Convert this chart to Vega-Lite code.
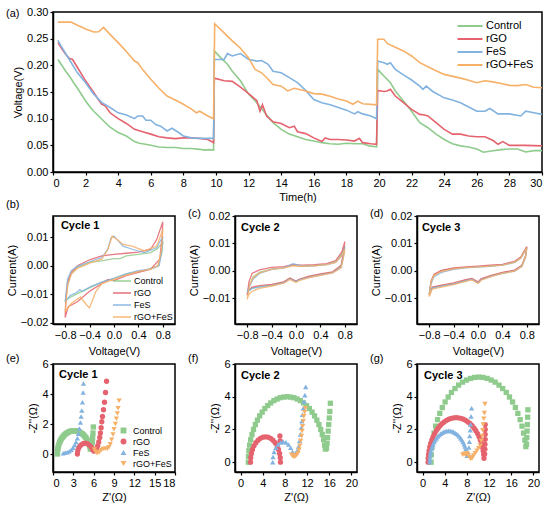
{
  "$schema": "https://vega.github.io/schema/vega-lite/v6.json",
  "padding": 5,
  "config": {
    "font": "Liberation Sans",
    "view": {"stroke": "#000", "strokeWidth": 1.5},
    "axis": {"grid": false, "domainColor": "#000", "domainWidth": 1.5, "tickColor": "#000", "tickWidth": 1.2, "tickSize": 3, "labelColor": "#000", "labelFontSize": 11, "labelPadding": 2, "labelOverlap": false, "titleColor": "#000", "titleFontSize": 11, "titleFontWeight": "normal", "titlePadding": 3},
    "title": {"fontSize": 11, "fontWeight": "normal", "anchor": "start", "frame": "group", "dx": -47, "color": "#000"},
    "legend": {"title": null, "padding": 0, "labelColor": "#000"}
  },
  "datasets": {
    "volt": [
      {"s":"Control","x":0.3,"y":0.211},{"s":"Control","x":0.5,"y":0.202},{"s":"Control","x":0.8,"y":0.188},{"s":"Control","x":1.0,"y":0.180},{"s":"Control","x":1.3,"y":0.166},{"s":"Control","x":1.5,"y":0.157},{"s":"Control","x":1.8,"y":0.143},{"s":"Control","x":2.0,"y":0.133},{"s":"Control","x":2.3,"y":0.121},{"s":"Control","x":2.5,"y":0.114},{"s":"Control","x":2.8,"y":0.105},{"s":"Control","x":3.0,"y":0.099},{"s":"Control","x":3.3,"y":0.090},{"s":"Control","x":3.5,"y":0.084},{"s":"Control","x":3.8,"y":0.078},{"s":"Control","x":4.0,"y":0.074},{"s":"Control","x":4.5,"y":0.0675},{"s":"Control","x":5.0,"y":0.057},{"s":"Control","x":5.3,"y":0.054},{"s":"Control","x":5.5,"y":0.053},{"s":"Control","x":6.0,"y":0.050},{"s":"Control","x":6.5,"y":0.047},{"s":"Control","x":7.0,"y":0.046},{"s":"Control","x":7.5,"y":0.046},{"s":"Control","x":8.0,"y":0.044},{"s":"Control","x":8.5,"y":0.044},{"s":"Control","x":9.0,"y":0.0425},{"s":"Control","x":9.3,"y":0.041},{"s":"Control","x":9.6,"y":0.042},{"s":"Control","x":9.85,"y":0.041},
      {"s":"Control","x":9.9,"y":0.227},{"s":"Control","x":10.3,"y":0.214},{"s":"Control","x":10.7,"y":0.202},{"s":"Control","x":11.0,"y":0.189},{"s":"Control","x":11.5,"y":0.171},{"s":"Control","x":12.0,"y":0.146},{"s":"Control","x":12.5,"y":0.130},{"s":"Control","x":13.0,"y":0.111},{"s":"Control","x":13.5,"y":0.0925},{"s":"Control","x":14.0,"y":0.080},{"s":"Control","x":14.5,"y":0.071},{"s":"Control","x":15.0,"y":0.066},{"s":"Control","x":15.5,"y":0.061},{"s":"Control","x":16.0,"y":0.058},{"s":"Control","x":16.5,"y":0.055},{"s":"Control","x":17.0,"y":0.053},{"s":"Control","x":17.5,"y":0.052},{"s":"Control","x":18.0,"y":0.054},{"s":"Control","x":18.5,"y":0.053},{"s":"Control","x":19.0,"y":0.053},{"s":"Control","x":19.4,"y":0.049},{"s":"Control","x":19.85,"y":0.047},
      {"s":"Control","x":19.92,"y":0.1925},{"s":"Control","x":20.3,"y":0.180},{"s":"Control","x":20.7,"y":0.1675},{"s":"Control","x":21.0,"y":0.152},{"s":"Control","x":21.5,"y":0.133},{"s":"Control","x":22.0,"y":0.114},{"s":"Control","x":22.5,"y":0.0925},{"s":"Control","x":23.0,"y":0.083},{"s":"Control","x":23.5,"y":0.071},{"s":"Control","x":24.0,"y":0.061},{"s":"Control","x":24.5,"y":0.053},{"s":"Control","x":25.0,"y":0.049},{"s":"Control","x":25.5,"y":0.047},{"s":"Control","x":26.0,"y":0.043},{"s":"Control","x":26.4,"y":0.037},{"s":"Control","x":27.0,"y":0.040},{"s":"Control","x":27.5,"y":0.042},{"s":"Control","x":28.0,"y":0.043},{"s":"Control","x":28.5,"y":0.043},{"s":"Control","x":29.0,"y":0.0375},{"s":"Control","x":29.5,"y":0.040},{"s":"Control","x":30.0,"y":0.040},
      {"s":"rGO","x":0.3,"y":0.2425},{"s":"rGO","x":0.5,"y":0.233},{"s":"rGO","x":0.8,"y":0.220},{"s":"rGO","x":1.0,"y":0.213},{"s":"rGO","x":1.2,"y":0.211},{"s":"rGO","x":1.5,"y":0.196},{"s":"rGO","x":2.0,"y":0.171},{"s":"rGO","x":2.5,"y":0.149},{"s":"rGO","x":2.8,"y":0.135},{"s":"rGO","x":3.0,"y":0.127},{"s":"rGO","x":3.2,"y":0.124},{"s":"rGO","x":3.5,"y":0.111},{"s":"rGO","x":4.0,"y":0.100},{"s":"rGO","x":4.5,"y":0.091},{"s":"rGO","x":5.0,"y":0.080},{"s":"rGO","x":5.5,"y":0.0756},{"s":"rGO","x":6.0,"y":0.071},{"s":"rGO","x":6.5,"y":0.066},{"s":"rGO","x":7.0,"y":0.064},{"s":"rGO","x":7.5,"y":0.0625},{"s":"rGO","x":8.0,"y":0.064},{"s":"rGO","x":8.5,"y":0.064},{"s":"rGO","x":9.0,"y":0.063},{"s":"rGO","x":9.5,"y":0.061},{"s":"rGO","x":9.85,"y":0.055},
      {"s":"rGO","x":9.9,"y":0.176},{"s":"rGO","x":10.5,"y":0.171},{"s":"rGO","x":11.0,"y":0.170},{"s":"rGO","x":11.5,"y":0.159},{"s":"rGO","x":12.0,"y":0.147},{"s":"rGO","x":12.5,"y":0.134},{"s":"rGO","x":12.7,"y":0.114},{"s":"rGO","x":12.85,"y":0.126},{"s":"rGO","x":13.1,"y":0.105},{"s":"rGO","x":13.5,"y":0.094},{"s":"rGO","x":14.0,"y":0.091},{"s":"rGO","x":14.5,"y":0.083},{"s":"rGO","x":14.8,"y":0.086},{"s":"rGO","x":15.0,"y":0.0756},{"s":"rGO","x":15.5,"y":0.072},{"s":"rGO","x":16.0,"y":0.064},{"s":"rGO","x":16.5,"y":0.057},{"s":"rGO","x":16.7,"y":0.064},{"s":"rGO","x":17.0,"y":0.061},{"s":"rGO","x":17.5,"y":0.061},{"s":"rGO","x":18.0,"y":0.060},{"s":"rGO","x":18.5,"y":0.058},{"s":"rGO","x":18.8,"y":0.063},{"s":"rGO","x":19.0,"y":0.055},{"s":"rGO","x":19.5,"y":0.053},{"s":"rGO","x":19.85,"y":0.052},
      {"s":"rGO","x":19.92,"y":0.153},{"s":"rGO","x":20.3,"y":0.151},{"s":"rGO","x":20.5,"y":0.152},{"s":"rGO","x":20.7,"y":0.155},{"s":"rGO","x":21.0,"y":0.1425},{"s":"rGO","x":21.5,"y":0.130},{"s":"rGO","x":22.0,"y":0.1175},{"s":"rGO","x":22.5,"y":0.108},{"s":"rGO","x":22.8,"y":0.107},{"s":"rGO","x":23.0,"y":0.105},{"s":"rGO","x":23.5,"y":0.0925},{"s":"rGO","x":24.0,"y":0.080},{"s":"rGO","x":24.5,"y":0.071},{"s":"rGO","x":25.0,"y":0.071},{"s":"rGO","x":25.5,"y":0.0675},{"s":"rGO","x":26.0,"y":0.066},{"s":"rGO","x":26.5,"y":0.066},{"s":"rGO","x":27.0,"y":0.059},{"s":"rGO","x":27.3,"y":0.052},{"s":"rGO","x":27.6,"y":0.057},{"s":"rGO","x":28.0,"y":0.050},{"s":"rGO","x":29.0,"y":0.050},{"s":"rGO","x":30.0,"y":0.049},
      {"s":"FeS","x":0.3,"y":0.247},{"s":"FeS","x":0.5,"y":0.236},{"s":"FeS","x":1.0,"y":0.211},{"s":"FeS","x":1.5,"y":0.186},{"s":"FeS","x":2.0,"y":0.1675},{"s":"FeS","x":2.5,"y":0.146},{"s":"FeS","x":3.0,"y":0.130},{"s":"FeS","x":3.5,"y":0.121},{"s":"FeS","x":4.0,"y":0.111},{"s":"FeS","x":4.5,"y":0.107},{"s":"FeS","x":5.0,"y":0.100},{"s":"FeS","x":5.2,"y":0.105},{"s":"FeS","x":5.5,"y":0.105},{"s":"FeS","x":5.7,"y":0.097},{"s":"FeS","x":6.0,"y":0.097},{"s":"FeS","x":6.3,"y":0.089},{"s":"FeS","x":6.6,"y":0.086},{"s":"FeS","x":7.0,"y":0.077},{"s":"FeS","x":7.3,"y":0.082},{"s":"FeS","x":7.7,"y":0.074},{"s":"FeS","x":8.0,"y":0.0675},{"s":"FeS","x":8.5,"y":0.064},{"s":"FeS","x":9.0,"y":0.063},{"s":"FeS","x":9.5,"y":0.063},{"s":"FeS","x":9.85,"y":0.063},
      {"s":"FeS","x":9.9,"y":0.211},{"s":"FeS","x":10.5,"y":0.211},{"s":"FeS","x":10.7,"y":0.222},{"s":"FeS","x":11.0,"y":0.2175},{"s":"FeS","x":11.5,"y":0.222},{"s":"FeS","x":12.0,"y":0.211},{"s":"FeS","x":12.5,"y":0.208},{"s":"FeS","x":12.8,"y":0.209},{"s":"FeS","x":13.2,"y":0.202},{"s":"FeS","x":13.5,"y":0.189},{"s":"FeS","x":14.0,"y":0.186},{"s":"FeS","x":14.5,"y":0.177},{"s":"FeS","x":15.0,"y":0.1675},{"s":"FeS","x":15.5,"y":0.153},{"s":"FeS","x":16.0,"y":0.136},{"s":"FeS","x":16.5,"y":0.130},{"s":"FeS","x":17.0,"y":0.126},{"s":"FeS","x":17.5,"y":0.121},{"s":"FeS","x":18.0,"y":0.116},{"s":"FeS","x":18.5,"y":0.109},{"s":"FeS","x":18.7,"y":0.113},{"s":"FeS","x":19.0,"y":0.109},{"s":"FeS","x":19.5,"y":0.105},{"s":"FeS","x":19.85,"y":0.100},
      {"s":"FeS","x":19.92,"y":0.208},{"s":"FeS","x":20.3,"y":0.205},{"s":"FeS","x":20.5,"y":0.202},{"s":"FeS","x":20.7,"y":0.205},{"s":"FeS","x":21.0,"y":0.1925},{"s":"FeS","x":21.5,"y":0.182},{"s":"FeS","x":22.0,"y":0.1725},{"s":"FeS","x":22.5,"y":0.161},{"s":"FeS","x":22.7,"y":0.155},{"s":"FeS","x":22.9,"y":0.161},{"s":"FeS","x":23.3,"y":0.151},{"s":"FeS","x":24.0,"y":0.139},{"s":"FeS","x":24.5,"y":0.135},{"s":"FeS","x":25.0,"y":0.130},{"s":"FeS","x":25.5,"y":0.122},{"s":"FeS","x":26.0,"y":0.114},{"s":"FeS","x":26.5,"y":0.114},{"s":"FeS","x":26.8,"y":0.119},{"s":"FeS","x":27.3,"y":0.109},{"s":"FeS","x":28.0,"y":0.109},{"s":"FeS","x":28.7,"y":0.105},{"s":"FeS","x":29.0,"y":0.114},{"s":"FeS","x":29.5,"y":0.111},{"s":"FeS","x":30.0,"y":0.108},
      {"s":"rGO+FeS","x":0.3,"y":0.281},{"s":"rGO+FeS","x":0.7,"y":0.281},{"s":"rGO+FeS","x":1.1,"y":0.281},{"s":"rGO+FeS","x":1.5,"y":0.275},{"s":"rGO+FeS","x":2.0,"y":0.268},{"s":"rGO+FeS","x":2.5,"y":0.2625},{"s":"rGO+FeS","x":2.8,"y":0.263},{"s":"rGO+FeS","x":3.1,"y":0.271},{"s":"rGO+FeS","x":3.5,"y":0.258},{"s":"rGO+FeS","x":4.0,"y":0.2425},{"s":"rGO+FeS","x":4.5,"y":0.226},{"s":"rGO+FeS","x":5.0,"y":0.208},{"s":"rGO+FeS","x":5.2,"y":0.205},{"s":"rGO+FeS","x":5.5,"y":0.192},{"s":"rGO+FeS","x":6.0,"y":0.174},{"s":"rGO+FeS","x":6.5,"y":0.157},{"s":"rGO+FeS","x":7.0,"y":0.1425},{"s":"rGO+FeS","x":7.5,"y":0.135},{"s":"rGO+FeS","x":8.0,"y":0.127},{"s":"rGO+FeS","x":8.5,"y":0.118},{"s":"rGO+FeS","x":8.8,"y":0.111},{"s":"rGO+FeS","x":9.0,"y":0.114},{"s":"rGO+FeS","x":9.5,"y":0.105},{"s":"rGO+FeS","x":9.85,"y":0.100},
      {"s":"rGO+FeS","x":9.92,"y":0.278},{"s":"rGO+FeS","x":10.5,"y":0.261},{"s":"rGO+FeS","x":11.0,"y":0.246},{"s":"rGO+FeS","x":11.5,"y":0.232},{"s":"rGO+FeS","x":12.0,"y":0.214},{"s":"rGO+FeS","x":12.4,"y":0.1925},{"s":"rGO+FeS","x":12.8,"y":0.186},{"s":"rGO+FeS","x":13.2,"y":0.174},{"s":"rGO+FeS","x":13.5,"y":0.164},{"s":"rGO+FeS","x":14.0,"y":0.161},{"s":"rGO+FeS","x":14.4,"y":0.152},{"s":"rGO+FeS","x":14.8,"y":0.157},{"s":"rGO+FeS","x":15.5,"y":0.152},{"s":"rGO+FeS","x":16.0,"y":0.147},{"s":"rGO+FeS","x":16.5,"y":0.146},{"s":"rGO+FeS","x":17.0,"y":0.142},{"s":"rGO+FeS","x":17.5,"y":0.137},{"s":"rGO+FeS","x":18.0,"y":0.133},{"s":"rGO+FeS","x":18.4,"y":0.127},{"s":"rGO+FeS","x":18.7,"y":0.133},{"s":"rGO+FeS","x":19.0,"y":0.128},{"s":"rGO+FeS","x":19.85,"y":0.126},
      {"s":"rGO+FeS","x":19.92,"y":0.249},{"s":"rGO+FeS","x":20.3,"y":0.249},{"s":"rGO+FeS","x":20.5,"y":0.241},{"s":"rGO+FeS","x":21.0,"y":0.234},{"s":"rGO+FeS","x":21.5,"y":0.227},{"s":"rGO+FeS","x":22.0,"y":0.2175},{"s":"rGO+FeS","x":22.5,"y":0.205},{"s":"rGO+FeS","x":23.0,"y":0.1975},{"s":"rGO+FeS","x":23.5,"y":0.190},{"s":"rGO+FeS","x":24.0,"y":0.183},{"s":"rGO+FeS","x":25.0,"y":0.176},{"s":"rGO+FeS","x":25.5,"y":0.172},{"s":"rGO+FeS","x":26.0,"y":0.1675},{"s":"rGO+FeS","x":26.5,"y":0.171},{"s":"rGO+FeS","x":27.0,"y":0.169},{"s":"rGO+FeS","x":27.5,"y":0.166},{"s":"rGO+FeS","x":28.0,"y":0.1625},{"s":"rGO+FeS","x":28.5,"y":0.162},{"s":"rGO+FeS","x":29.0,"y":0.164},{"s":"rGO+FeS","x":29.5,"y":0.159},{"s":"rGO+FeS","x":30.0,"y":0.158}
    ],
    "cv1": [
      {"s":"Control","i":0,"x":-0.8,"y":-0.0127},{"s":"Control","i":1,"x":-0.75,"y":-0.0058},{"s":"Control","i":2,"x":-0.7,"y":-0.0029},{"s":"Control","i":3,"x":-0.6,"y":-0.0006},{"s":"Control","i":4,"x":-0.4,"y":0.0012},{"s":"Control","i":5,"x":-0.2,"y":0.0017},{"s":"Control","i":6,"x":0.0,"y":0.0025},{"s":"Control","i":7,"x":0.1,"y":0.0025},{"s":"Control","i":8,"x":0.2,"y":0.0035},{"s":"Control","i":9,"x":0.4,"y":0.004},{"s":"Control","i":10,"x":0.6,"y":0.0046},{"s":"Control","i":11,"x":0.7,"y":0.0058},{"s":"Control","i":12,"x":0.8,"y":0.008},{"s":"Control","i":13,"x":0.78,"y":0.004},{"s":"Control","i":14,"x":0.72,"y":0.0},{"s":"Control","i":15,"x":0.5,"y":-0.0017},{"s":"Control","i":16,"x":0.2,"y":-0.0029},{"s":"Control","i":17,"x":0.0,"y":-0.0044},{"s":"Control","i":18,"x":-0.2,"y":-0.0058},{"s":"Control","i":19,"x":-0.4,"y":-0.0078},{"s":"Control","i":20,"x":-0.6,"y":-0.0098},{"s":"Control","i":21,"x":-0.75,"y":-0.0115},{"s":"Control","i":22,"x":-0.8,"y":-0.0127},
      {"s":"rGO","i":0,"x":-0.8,"y":-0.0182},{"s":"rGO","i":1,"x":-0.79,"y":-0.0115},{"s":"rGO","i":2,"x":-0.76,"y":-0.0058},{"s":"rGO","i":3,"x":-0.7,"y":-0.0023},{"s":"rGO","i":4,"x":-0.6,"y":0.0},{"s":"rGO","i":5,"x":-0.4,"y":0.0021},{"s":"rGO","i":6,"x":-0.2,"y":0.0035},{"s":"rGO","i":7,"x":0.0,"y":0.004},{"s":"rGO","i":8,"x":0.2,"y":0.0044},{"s":"rGO","i":9,"x":0.4,"y":0.0048},{"s":"rGO","i":10,"x":0.6,"y":0.0058},{"s":"rGO","i":11,"x":0.7,"y":0.0092},{"s":"rGO","i":12,"x":0.8,"y":0.0155},{"s":"rGO","i":13,"x":0.79,"y":0.0104},{"s":"rGO","i":14,"x":0.75,"y":0.0023},{"s":"rGO","i":15,"x":0.6,"y":-0.0012},{"s":"rGO","i":16,"x":0.4,"y":-0.0023},{"s":"rGO","i":17,"x":0.2,"y":-0.0035},{"s":"rGO","i":18,"x":0.0,"y":-0.0052},{"s":"rGO","i":19,"x":-0.1,"y":-0.0048},{"s":"rGO","i":20,"x":-0.2,"y":-0.0063},{"s":"rGO","i":21,"x":-0.4,"y":-0.009},{"s":"rGO","i":22,"x":-0.6,"y":-0.0127},{"s":"rGO","i":23,"x":-0.75,"y":-0.0144},{"s":"rGO","i":24,"x":-0.8,"y":-0.0182},
      {"s":"FeS","i":0,"x":-0.8,"y":-0.0127},{"s":"FeS","i":1,"x":-0.76,"y":-0.0046},{"s":"FeS","i":2,"x":-0.7,"y":-0.0017},{"s":"FeS","i":3,"x":-0.6,"y":-0.0002},{"s":"FeS","i":4,"x":-0.4,"y":0.0014},{"s":"FeS","i":5,"x":-0.2,"y":0.0029},{"s":"FeS","i":6,"x":-0.1,"y":0.0058},{"s":"FeS","i":7,"x":-0.05,"y":0.0098},{"s":"FeS","i":8,"x":0.0,"y":0.0104},{"s":"FeS","i":9,"x":0.05,"y":0.0092},{"s":"FeS","i":10,"x":0.15,"y":0.0069},{"s":"FeS","i":11,"x":0.3,"y":0.0058},{"s":"FeS","i":12,"x":0.5,"y":0.0046},{"s":"FeS","i":13,"x":0.7,"y":0.0063},{"s":"FeS","i":14,"x":0.8,"y":0.0104},{"s":"FeS","i":15,"x":0.79,"y":0.006},{"s":"FeS","i":16,"x":0.74,"y":0.0},{"s":"FeS","i":17,"x":0.6,"y":-0.0012},{"s":"FeS","i":18,"x":0.4,"y":-0.0017},{"s":"FeS","i":19,"x":0.2,"y":-0.0029},{"s":"FeS","i":20,"x":0.0,"y":-0.0044},{"s":"FeS","i":21,"x":-0.2,"y":-0.0058},{"s":"FeS","i":22,"x":-0.4,"y":-0.0075},{"s":"FeS","i":23,"x":-0.52,"y":-0.009},{"s":"FeS","i":24,"x":-0.56,"y":-0.0085},{"s":"FeS","i":25,"x":-0.62,"y":-0.0095},{"s":"FeS","i":26,"x":-0.72,"y":-0.0105},{"s":"FeS","i":27,"x":-0.8,"y":-0.0127},
      {"s":"rGO+FeS","i":0,"x":-0.8,"y":-0.0161},{"s":"rGO+FeS","i":1,"x":-0.76,"y":-0.0069},{"s":"rGO+FeS","i":2,"x":-0.7,"y":-0.0029},{"s":"rGO+FeS","i":3,"x":-0.6,"y":-0.0009},{"s":"rGO+FeS","i":4,"x":-0.4,"y":0.0009},{"s":"rGO+FeS","i":5,"x":-0.2,"y":0.0023},{"s":"rGO+FeS","i":6,"x":-0.1,"y":0.0058},{"s":"rGO+FeS","i":7,"x":-0.03,"y":0.0104},{"s":"rGO+FeS","i":8,"x":0.05,"y":0.0092},{"s":"rGO+FeS","i":9,"x":0.15,"y":0.0075},{"s":"rGO+FeS","i":10,"x":0.3,"y":0.0069},{"s":"rGO+FeS","i":11,"x":0.5,"y":0.0052},{"s":"rGO+FeS","i":12,"x":0.7,"y":0.0069},{"s":"rGO+FeS","i":13,"x":0.8,"y":0.0127},{"s":"rGO+FeS","i":14,"x":0.78,"y":0.0058},{"s":"rGO+FeS","i":15,"x":0.72,"y":0.0},{"s":"rGO+FeS","i":16,"x":0.6,"y":-0.0012},{"s":"rGO+FeS","i":17,"x":0.4,"y":-0.0021},{"s":"rGO+FeS","i":18,"x":0.2,"y":-0.0033},{"s":"rGO+FeS","i":19,"x":0.0,"y":-0.0048},{"s":"rGO+FeS","i":20,"x":-0.2,"y":-0.0063},{"s":"rGO+FeS","i":21,"x":-0.3,"y":-0.0092},{"s":"rGO+FeS","i":22,"x":-0.4,"y":-0.0148},{"s":"rGO+FeS","i":23,"x":-0.45,"y":-0.0138},{"s":"rGO+FeS","i":24,"x":-0.55,"y":-0.011},{"s":"rGO+FeS","i":25,"x":-0.7,"y":-0.0133},{"s":"rGO+FeS","i":26,"x":-0.8,"y":-0.0161}
    ],
    "cv2": [
      {"s":"Control","i":0,"x":-0.8,"y":-0.0085},{"s":"Control","i":1,"x":-0.76,"y":-0.005},{"s":"Control","i":2,"x":-0.7,"y":-0.0022},{"s":"Control","i":3,"x":-0.6,"y":-0.0006},{"s":"Control","i":4,"x":-0.4,"y":0.0006},{"s":"Control","i":5,"x":-0.2,"y":0.001},{"s":"Control","i":6,"x":-0.05,"y":0.002},{"s":"Control","i":7,"x":0.1,"y":0.0016},{"s":"Control","i":8,"x":0.3,"y":0.0019},{"s":"Control","i":9,"x":0.5,"y":0.0023},{"s":"Control","i":10,"x":0.65,"y":0.0033},{"s":"Control","i":11,"x":0.75,"y":0.006},{"s":"Control","i":12,"x":0.8,"y":0.009},{"s":"Control","i":13,"x":0.78,"y":0.006},{"s":"Control","i":14,"x":0.74,"y":0.0016},{"s":"Control","i":15,"x":0.6,"y":-0.0006},{"s":"Control","i":16,"x":0.4,"y":-0.0014},{"s":"Control","i":17,"x":0.2,"y":-0.0023},{"s":"Control","i":18,"x":0.05,"y":-0.0033},{"s":"Control","i":19,"x":0.0,"y":-0.0039},{"s":"Control","i":20,"x":-0.1,"y":-0.0028},{"s":"Control","i":21,"x":-0.2,"y":-0.0042},{"s":"Control","i":22,"x":-0.4,"y":-0.0052},{"s":"Control","i":23,"x":-0.6,"y":-0.0058},{"s":"Control","i":24,"x":-0.72,"y":-0.0063},{"s":"Control","i":25,"x":-0.78,"y":-0.0075},{"s":"Control","i":26,"x":-0.8,"y":-0.0085},
      {"s":"rGO","i":0,"x":-0.8,"y":-0.009},{"s":"rGO","i":1,"x":-0.77,"y":-0.004},{"s":"rGO","i":2,"x":-0.72,"y":-0.001},{"s":"rGO","i":3,"x":-0.6,"y":0.0003},{"s":"rGO","i":4,"x":-0.4,"y":0.0012},{"s":"rGO","i":5,"x":-0.2,"y":0.0015},{"s":"rGO","i":6,"x":-0.05,"y":0.0022},{"s":"rGO","i":7,"x":0.1,"y":0.002},{"s":"rGO","i":8,"x":0.3,"y":0.0022},{"s":"rGO","i":9,"x":0.5,"y":0.0026},{"s":"rGO","i":10,"x":0.65,"y":0.0037},{"s":"rGO","i":11,"x":0.75,"y":0.0068},{"s":"rGO","i":12,"x":0.8,"y":0.0106},{"s":"rGO","i":13,"x":0.78,"y":0.007},{"s":"rGO","i":14,"x":0.74,"y":0.002},{"s":"rGO","i":15,"x":0.6,"y":-0.0004},{"s":"rGO","i":16,"x":0.4,"y":-0.0012},{"s":"rGO","i":17,"x":0.2,"y":-0.0021},{"s":"rGO","i":18,"x":0.05,"y":-0.0032},{"s":"rGO","i":19,"x":0.0,"y":-0.0038},{"s":"rGO","i":20,"x":-0.1,"y":-0.0027},{"s":"rGO","i":21,"x":-0.2,"y":-0.0041},{"s":"rGO","i":22,"x":-0.4,"y":-0.005},{"s":"rGO","i":23,"x":-0.6,"y":-0.0055},{"s":"rGO","i":24,"x":-0.72,"y":-0.006},{"s":"rGO","i":25,"x":-0.78,"y":-0.0072},{"s":"rGO","i":26,"x":-0.8,"y":-0.009},
      {"s":"FeS","i":0,"x":-0.8,"y":-0.008},{"s":"FeS","i":1,"x":-0.76,"y":-0.0055},{"s":"FeS","i":2,"x":-0.7,"y":-0.003},{"s":"FeS","i":3,"x":-0.6,"y":-0.001},{"s":"FeS","i":4,"x":-0.4,"y":0.0005},{"s":"FeS","i":5,"x":-0.2,"y":0.001},{"s":"FeS","i":6,"x":-0.05,"y":0.0026},{"s":"FeS","i":7,"x":0.1,"y":0.0017},{"s":"FeS","i":8,"x":0.3,"y":0.0018},{"s":"FeS","i":9,"x":0.5,"y":0.0022},{"s":"FeS","i":10,"x":0.65,"y":0.003},{"s":"FeS","i":11,"x":0.75,"y":0.0055},{"s":"FeS","i":12,"x":0.8,"y":0.0085},{"s":"FeS","i":13,"x":0.78,"y":0.0055},{"s":"FeS","i":14,"x":0.74,"y":0.0012},{"s":"FeS","i":15,"x":0.6,"y":-0.0008},{"s":"FeS","i":16,"x":0.4,"y":-0.0016},{"s":"FeS","i":17,"x":0.2,"y":-0.0025},{"s":"FeS","i":18,"x":0.05,"y":-0.0034},{"s":"FeS","i":19,"x":0.0,"y":-0.004},{"s":"FeS","i":20,"x":-0.1,"y":-0.003},{"s":"FeS","i":21,"x":-0.2,"y":-0.0045},{"s":"FeS","i":22,"x":-0.4,"y":-0.0055},{"s":"FeS","i":23,"x":-0.6,"y":-0.006},{"s":"FeS","i":24,"x":-0.72,"y":-0.0065},{"s":"FeS","i":25,"x":-0.78,"y":-0.0075},{"s":"FeS","i":26,"x":-0.8,"y":-0.008},
      {"s":"rGO+FeS","i":0,"x":-0.8,"y":-0.0105},{"s":"rGO+FeS","i":1,"x":-0.76,"y":-0.0052},{"s":"rGO+FeS","i":2,"x":-0.7,"y":-0.0025},{"s":"rGO+FeS","i":3,"x":-0.6,"y":-0.0008},{"s":"rGO+FeS","i":4,"x":-0.4,"y":0.0005},{"s":"rGO+FeS","i":5,"x":-0.2,"y":0.001},{"s":"rGO+FeS","i":6,"x":-0.05,"y":0.0018},{"s":"rGO+FeS","i":7,"x":0.1,"y":0.0016},{"s":"rGO+FeS","i":8,"x":0.3,"y":0.0018},{"s":"rGO+FeS","i":9,"x":0.5,"y":0.0022},{"s":"rGO+FeS","i":10,"x":0.65,"y":0.003},{"s":"rGO+FeS","i":11,"x":0.75,"y":0.0055},{"s":"rGO+FeS","i":12,"x":0.8,"y":0.008},{"s":"rGO+FeS","i":13,"x":0.78,"y":0.005},{"s":"rGO+FeS","i":14,"x":0.74,"y":0.001},{"s":"rGO+FeS","i":15,"x":0.6,"y":-0.0008},{"s":"rGO+FeS","i":16,"x":0.4,"y":-0.0017},{"s":"rGO+FeS","i":17,"x":0.2,"y":-0.0026},{"s":"rGO+FeS","i":18,"x":0.05,"y":-0.0036},{"s":"rGO+FeS","i":19,"x":0.0,"y":-0.0043},{"s":"rGO+FeS","i":20,"x":-0.1,"y":-0.0032},{"s":"rGO+FeS","i":21,"x":-0.2,"y":-0.0046},{"s":"rGO+FeS","i":22,"x":-0.4,"y":-0.0056},{"s":"rGO+FeS","i":23,"x":-0.6,"y":-0.0065},{"s":"rGO+FeS","i":24,"x":-0.72,"y":-0.0075},{"s":"rGO+FeS","i":25,"x":-0.78,"y":-0.009},{"s":"rGO+FeS","i":26,"x":-0.8,"y":-0.0105}
    ],
    "cv3": [
      {"s":"Control","i":0,"x":-0.8,"y":-0.009},{"s":"Control","i":1,"x":-0.77,"y":-0.004},{"s":"Control","i":2,"x":-0.72,"y":-0.0015},{"s":"Control","i":3,"x":-0.6,"y":-0.0001},{"s":"Control","i":4,"x":-0.4,"y":0.0008},{"s":"Control","i":5,"x":-0.2,"y":0.0012},{"s":"Control","i":6,"x":0.0,"y":0.0015},{"s":"Control","i":7,"x":0.2,"y":0.0018},{"s":"Control","i":8,"x":0.4,"y":0.0021},{"s":"Control","i":9,"x":0.6,"y":0.0032},{"s":"Control","i":10,"x":0.7,"y":0.0047},{"s":"Control","i":11,"x":0.8,"y":0.0086},{"s":"Control","i":12,"x":0.78,"y":0.0053},{"s":"Control","i":13,"x":0.72,"y":0.0018},{"s":"Control","i":14,"x":0.6,"y":0.0},{"s":"Control","i":15,"x":0.4,"y":-0.0008},{"s":"Control","i":16,"x":0.2,"y":-0.002},{"s":"Control","i":17,"x":0.05,"y":-0.0032},{"s":"Control","i":18,"x":0.0,"y":-0.0044},{"s":"Control","i":19,"x":-0.1,"y":-0.003},{"s":"Control","i":20,"x":-0.2,"y":-0.0035},{"s":"Control","i":21,"x":-0.4,"y":-0.0047},{"s":"Control","i":22,"x":-0.6,"y":-0.0055},{"s":"Control","i":23,"x":-0.75,"y":-0.0062},{"s":"Control","i":24,"x":-0.8,"y":-0.009},
      {"s":"rGO","i":0,"x":-0.8,"y":-0.0088},{"s":"rGO","i":1,"x":-0.77,"y":-0.0038},{"s":"rGO","i":2,"x":-0.72,"y":-0.0013},{"s":"rGO","i":3,"x":-0.6,"y":0.0001},{"s":"rGO","i":4,"x":-0.4,"y":0.001},{"s":"rGO","i":5,"x":-0.2,"y":0.0014},{"s":"rGO","i":6,"x":0.0,"y":0.0017},{"s":"rGO","i":7,"x":0.2,"y":0.002},{"s":"rGO","i":8,"x":0.4,"y":0.0023},{"s":"rGO","i":9,"x":0.6,"y":0.0034},{"s":"rGO","i":10,"x":0.7,"y":0.005},{"s":"rGO","i":11,"x":0.8,"y":0.0088},{"s":"rGO","i":12,"x":0.78,"y":0.0055},{"s":"rGO","i":13,"x":0.72,"y":0.002},{"s":"rGO","i":14,"x":0.6,"y":0.0002},{"s":"rGO","i":15,"x":0.4,"y":-0.0006},{"s":"rGO","i":16,"x":0.2,"y":-0.0018},{"s":"rGO","i":17,"x":0.05,"y":-0.003},{"s":"rGO","i":18,"x":0.0,"y":-0.0041},{"s":"rGO","i":19,"x":-0.1,"y":-0.0028},{"s":"rGO","i":20,"x":-0.2,"y":-0.0033},{"s":"rGO","i":21,"x":-0.4,"y":-0.0045},{"s":"rGO","i":22,"x":-0.6,"y":-0.0053},{"s":"rGO","i":23,"x":-0.75,"y":-0.006},{"s":"rGO","i":24,"x":-0.8,"y":-0.0088},
      {"s":"FeS","i":0,"x":-0.8,"y":-0.0085},{"s":"FeS","i":1,"x":-0.77,"y":-0.0048},{"s":"FeS","i":2,"x":-0.72,"y":-0.0022},{"s":"FeS","i":3,"x":-0.6,"y":-0.0006},{"s":"FeS","i":4,"x":-0.4,"y":0.0005},{"s":"FeS","i":5,"x":-0.2,"y":0.001},{"s":"FeS","i":6,"x":0.0,"y":0.0013},{"s":"FeS","i":7,"x":0.2,"y":0.0016},{"s":"FeS","i":8,"x":0.4,"y":0.002},{"s":"FeS","i":9,"x":0.6,"y":0.003},{"s":"FeS","i":10,"x":0.7,"y":0.0045},{"s":"FeS","i":11,"x":0.8,"y":0.0082},{"s":"FeS","i":12,"x":0.78,"y":0.005},{"s":"FeS","i":13,"x":0.72,"y":0.0016},{"s":"FeS","i":14,"x":0.6,"y":-0.0002},{"s":"FeS","i":15,"x":0.4,"y":-0.001},{"s":"FeS","i":16,"x":0.2,"y":-0.0022},{"s":"FeS","i":17,"x":0.05,"y":-0.0034},{"s":"FeS","i":18,"x":0.0,"y":-0.0045},{"s":"FeS","i":19,"x":-0.1,"y":-0.0032},{"s":"FeS","i":20,"x":-0.2,"y":-0.0037},{"s":"FeS","i":21,"x":-0.4,"y":-0.0049},{"s":"FeS","i":22,"x":-0.6,"y":-0.0057},{"s":"FeS","i":23,"x":-0.75,"y":-0.0064},{"s":"FeS","i":24,"x":-0.8,"y":-0.0085},
      {"s":"rGO+FeS","i":0,"x":-0.8,"y":-0.0095},{"s":"rGO+FeS","i":1,"x":-0.77,"y":-0.0042},{"s":"rGO+FeS","i":2,"x":-0.72,"y":-0.0017},{"s":"rGO+FeS","i":3,"x":-0.6,"y":-0.0003},{"s":"rGO+FeS","i":4,"x":-0.4,"y":0.0007},{"s":"rGO+FeS","i":5,"x":-0.2,"y":0.0011},{"s":"rGO+FeS","i":6,"x":0.0,"y":0.0014},{"s":"rGO+FeS","i":7,"x":0.2,"y":0.0017},{"s":"rGO+FeS","i":8,"x":0.4,"y":0.002},{"s":"rGO+FeS","i":9,"x":0.6,"y":0.0031},{"s":"rGO+FeS","i":10,"x":0.7,"y":0.0046},{"s":"rGO+FeS","i":11,"x":0.8,"y":0.0084},{"s":"rGO+FeS","i":12,"x":0.78,"y":0.0051},{"s":"rGO+FeS","i":13,"x":0.72,"y":0.0016},{"s":"rGO+FeS","i":14,"x":0.6,"y":-0.0002},{"s":"rGO+FeS","i":15,"x":0.4,"y":-0.001},{"s":"rGO+FeS","i":16,"x":0.2,"y":-0.0023},{"s":"rGO+FeS","i":17,"x":0.05,"y":-0.0035},{"s":"rGO+FeS","i":18,"x":0.0,"y":-0.0047},{"s":"rGO+FeS","i":19,"x":-0.1,"y":-0.0034},{"s":"rGO+FeS","i":20,"x":-0.2,"y":-0.0039},{"s":"rGO+FeS","i":21,"x":-0.4,"y":-0.0051},{"s":"rGO+FeS","i":22,"x":-0.6,"y":-0.006},{"s":"rGO+FeS","i":23,"x":-0.75,"y":-0.0067},{"s":"rGO+FeS","i":24,"x":-0.8,"y":-0.0095}
    ],
    "eis1": [
      {"s":"Control","x":0.65,"y":0.0},{"s":"Control","x":0.66,"y":0.14},{"s":"Control","x":0.69,"y":0.27},{"s":"Control","x":0.73,"y":0.40},{"s":"Control","x":0.80,"y":0.53},{"s":"Control","x":0.88,"y":0.66},{"s":"Control","x":0.98,"y":0.78},{"s":"Control","x":1.09,"y":0.89},{"s":"Control","x":1.22,"y":1.0},{"s":"Control","x":1.37,"y":1.10},{"s":"Control","x":1.53,"y":1.19},{"s":"Control","x":1.69,"y":1.27},{"s":"Control","x":1.88,"y":1.34},{"s":"Control","x":2.06,"y":1.40},{"s":"Control","x":2.26,"y":1.46},{"s":"Control","x":2.47,"y":1.50},{"s":"Control","x":2.67,"y":1.53},{"s":"Control","x":2.89,"y":1.54},{"s":"Control","x":3.10,"y":1.55},{"s":"Control","x":3.31,"y":1.54},{"s":"Control","x":3.53,"y":1.53},{"s":"Control","x":3.73,"y":1.50},{"s":"Control","x":3.94,"y":1.46},{"s":"Control","x":4.14,"y":1.40},{"s":"Control","x":4.33,"y":1.34},{"s":"Control","x":4.51,"y":1.27},{"s":"Control","x":4.67,"y":1.19},{"s":"Control","x":4.83,"y":1.10},{"s":"Control","x":4.98,"y":1.0},{"s":"Control","x":5.11,"y":0.89},{"s":"Control","x":5.22,"y":0.78},{"s":"Control","x":5.32,"y":0.66},{"s":"Control","x":5.40,"y":0.53},{"s":"Control","x":5.50,"y":0.32},{"s":"Control","x":5.70,"y":0.5},{"s":"Control","x":5.80,"y":0.8},{"s":"Control","x":5.85,"y":1.1},{"s":"Control","x":5.90,"y":1.4},{"s":"Control","x":5.95,"y":1.8},
      {"s":"rGO","x":3.6,"y":0.0},{"s":"rGO","x":3.65,"y":0.2},{"s":"rGO","x":3.75,"y":0.38},{"s":"rGO","x":3.95,"y":0.52},{"s":"rGO","x":4.2,"y":0.63},{"s":"rGO","x":4.5,"y":0.7},{"s":"rGO","x":4.8,"y":0.72},{"s":"rGO","x":5.1,"y":0.68},{"s":"rGO","x":5.4,"y":0.58},{"s":"rGO","x":5.65,"y":0.45},{"s":"rGO","x":5.85,"y":0.3},{"s":"rGO","x":6.0,"y":0.2},{"s":"rGO","x":6.2,"y":0.22},{"s":"rGO","x":6.4,"y":0.35},{"s":"rGO","x":6.6,"y":0.55},{"s":"rGO","x":6.75,"y":0.8},{"s":"rGO","x":6.9,"y":1.1},{"s":"rGO","x":7.0,"y":1.4},{"s":"rGO","x":7.1,"y":1.75},{"s":"rGO","x":7.2,"y":2.15},{"s":"rGO","x":7.3,"y":2.5},{"s":"rGO","x":7.45,"y":2.95},{"s":"rGO","x":7.6,"y":3.45},{"s":"rGO","x":7.75,"y":4.1},{"s":"rGO","x":7.9,"y":4.85},
      {"s":"FeS","x":1.5,"y":0.05},{"s":"FeS","x":1.8,"y":0.1},{"s":"FeS","x":2.1,"y":0.12},{"s":"FeS","x":2.4,"y":0.18},{"s":"FeS","x":2.7,"y":0.28},{"s":"FeS","x":2.95,"y":0.42},{"s":"FeS","x":3.2,"y":0.6},{"s":"FeS","x":3.4,"y":0.8},{"s":"FeS","x":3.6,"y":1.05},{"s":"FeS","x":3.75,"y":1.35},{"s":"FeS","x":3.9,"y":1.7},{"s":"FeS","x":4.05,"y":2.1},{"s":"FeS","x":4.15,"y":2.5},{"s":"FeS","x":4.25,"y":2.9},{"s":"FeS","x":4.35,"y":3.45},{"s":"FeS","x":4.45,"y":4.1},{"s":"FeS","x":4.5,"y":4.7},
      {"s":"rGO+FeS","x":6.1,"y":0.3},{"s":"rGO+FeS","x":6.3,"y":0.15},{"s":"rGO+FeS","x":6.5,"y":0.05},{"s":"rGO+FeS","x":6.8,"y":0.1},{"s":"rGO+FeS","x":7.1,"y":0.25},{"s":"rGO+FeS","x":7.4,"y":0.33},{"s":"rGO+FeS","x":7.7,"y":0.35},{"s":"rGO+FeS","x":8.0,"y":0.35},{"s":"rGO+FeS","x":8.25,"y":0.45},{"s":"rGO+FeS","x":8.45,"y":0.65},{"s":"rGO+FeS","x":8.65,"y":0.95},{"s":"rGO+FeS","x":8.85,"y":1.3},{"s":"rGO+FeS","x":9.0,"y":1.65},{"s":"rGO+FeS","x":9.2,"y":2.0},{"s":"rGO+FeS","x":9.35,"y":2.35},{"s":"rGO+FeS","x":9.5,"y":2.7},{"s":"rGO+FeS","x":9.6,"y":3.05},{"s":"rGO+FeS","x":9.75,"y":3.55}
    ],
    "eis2": [
      {"s":"Control","x":1.40,"y":0.0},{"s":"Control","x":1.43,"y":0.35},{"s":"Control","x":1.51,"y":0.70},{"s":"Control","x":1.64,"y":1.04},{"s":"Control","x":1.82,"y":1.37},{"s":"Control","x":2.06,"y":1.69},{"s":"Control","x":2.34,"y":2.0},{"s":"Control","x":2.67,"y":2.30},{"s":"Control","x":3.04,"y":2.57},{"s":"Control","x":3.45,"y":2.83},{"s":"Control","x":3.90,"y":3.06},{"s":"Control","x":4.38,"y":3.28},{"s":"Control","x":4.90,"y":3.46},{"s":"Control","x":5.44,"y":3.62},{"s":"Control","x":6.01,"y":3.76},{"s":"Control","x":6.59,"y":3.86},{"s":"Control","x":7.18,"y":3.94},{"s":"Control","x":7.79,"y":3.98},{"s":"Control","x":8.40,"y":4.0},{"s":"Control","x":9.01,"y":3.98},{"s":"Control","x":9.62,"y":3.94},{"s":"Control","x":10.21,"y":3.86},{"s":"Control","x":10.79,"y":3.76},{"s":"Control","x":11.36,"y":3.62},{"s":"Control","x":11.90,"y":3.46},{"s":"Control","x":12.42,"y":3.28},{"s":"Control","x":12.90,"y":3.06},{"s":"Control","x":13.35,"y":2.83},{"s":"Control","x":13.76,"y":2.57},{"s":"Control","x":14.13,"y":2.30},{"s":"Control","x":14.46,"y":2.0},{"s":"Control","x":14.74,"y":1.69},{"s":"Control","x":14.98,"y":1.37},{"s":"Control","x":15.16,"y":1.04},{"s":"Control","x":15.30,"y":0.80},{"s":"Control","x":15.5,"y":0.85},{"s":"Control","x":15.6,"y":1.15},{"s":"Control","x":15.7,"y":1.5},{"s":"Control","x":15.8,"y":1.9},{"s":"Control","x":15.9,"y":2.3},{"s":"Control","x":16.0,"y":2.7},{"s":"Control","x":16.1,"y":3.1},{"s":"Control","x":16.2,"y":3.6},
      {"s":"rGO","x":1.80,"y":0.0},{"s":"rGO","x":1.84,"y":0.27},{"s":"rGO","x":1.96,"y":0.53},{"s":"rGO","x":2.16,"y":0.78},{"s":"rGO","x":2.43,"y":1.0},{"s":"rGO","x":2.76,"y":1.19},{"s":"rGO","x":3.15,"y":1.34},{"s":"rGO","x":3.58,"y":1.46},{"s":"rGO","x":4.03,"y":1.53},{"s":"rGO","x":4.50,"y":1.55},{"s":"rGO","x":4.97,"y":1.53},{"s":"rGO","x":5.42,"y":1.46},{"s":"rGO","x":5.85,"y":1.34},{"s":"rGO","x":6.24,"y":1.19},{"s":"rGO","x":6.57,"y":1.0},{"s":"rGO","x":6.84,"y":0.78},{"s":"rGO","x":7.04,"y":0.53},{"s":"rGO","x":7.16,"y":0.27},{"s":"rGO","x":7.20,"y":0.0},{"s":"rGO","x":7.15,"y":1.3},{"s":"rGO","x":7.1,"y":1.6},
      {"s":"FeS","x":5.80,"y":0.0},{"s":"FeS","x":5.86,"y":0.32},{"s":"FeS","x":6.05,"y":0.63},{"s":"FeS","x":6.36,"y":0.88},{"s":"FeS","x":6.75,"y":1.08},{"s":"FeS","x":7.21,"y":1.21},{"s":"FeS","x":7.70,"y":1.25},{"s":"FeS","x":8.19,"y":1.21},{"s":"FeS","x":8.65,"y":1.08},{"s":"FeS","x":9.04,"y":0.88},{"s":"FeS","x":9.35,"y":0.63},{"s":"FeS","x":9.6,"y":0.5},{"s":"FeS","x":9.9,"y":0.55},{"s":"FeS","x":10.2,"y":0.7},{"s":"FeS","x":10.45,"y":0.95},{"s":"FeS","x":10.65,"y":1.3},{"s":"FeS","x":10.8,"y":1.7},{"s":"FeS","x":10.95,"y":2.1},{"s":"FeS","x":11.05,"y":2.5},{"s":"FeS","x":11.15,"y":2.9},{"s":"FeS","x":11.3,"y":3.3},{"s":"FeS","x":11.45,"y":3.7},{"s":"FeS","x":11.6,"y":4.1},{"s":"FeS","x":11.75,"y":4.6},
      {"s":"rGO+FeS","x":9.2,"y":0.45},{"s":"rGO+FeS","x":9.4,"y":0.38},{"s":"rGO+FeS","x":9.6,"y":0.33},{"s":"rGO+FeS","x":9.85,"y":0.35},{"s":"rGO+FeS","x":10.1,"y":0.42},{"s":"rGO+FeS","x":10.35,"y":0.55},{"s":"rGO+FeS","x":10.55,"y":0.75},{"s":"rGO+FeS","x":10.7,"y":1.0},{"s":"rGO+FeS","x":10.85,"y":1.3},{"s":"rGO+FeS","x":11.0,"y":1.6},{"s":"rGO+FeS","x":11.1,"y":1.9},{"s":"rGO+FeS","x":11.2,"y":2.2},{"s":"rGO+FeS","x":11.3,"y":2.5},{"s":"rGO+FeS","x":11.4,"y":2.8},{"s":"rGO+FeS","x":11.55,"y":3.05},{"s":"rGO+FeS","x":11.7,"y":3.3}
    ],
    "eis3": [
      {"s":"Control","x":1.55,"y":0.0},{"s":"Control","x":1.58,"y":0.45},{"s":"Control","x":1.68,"y":0.90},{"s":"Control","x":1.84,"y":1.35},{"s":"Control","x":2.07,"y":1.78},{"s":"Control","x":2.36,"y":2.20},{"s":"Control","x":2.70,"y":2.60},{"s":"Control","x":3.11,"y":2.98},{"s":"Control","x":3.56,"y":3.34},{"s":"Control","x":4.07,"y":3.68},{"s":"Control","x":4.62,"y":3.98},{"s":"Control","x":5.21,"y":4.26},{"s":"Control","x":5.85,"y":4.50},{"s":"Control","x":6.51,"y":4.71},{"s":"Control","x":7.21,"y":4.89},{"s":"Control","x":7.92,"y":5.02},{"s":"Control","x":8.65,"y":5.12},{"s":"Control","x":9.40,"y":5.18},{"s":"Control","x":10.15,"y":5.20},{"s":"Control","x":10.90,"y":5.18},{"s":"Control","x":11.65,"y":5.12},{"s":"Control","x":12.38,"y":5.02},{"s":"Control","x":13.09,"y":4.89},{"s":"Control","x":13.79,"y":4.71},{"s":"Control","x":14.45,"y":4.50},{"s":"Control","x":15.09,"y":4.26},{"s":"Control","x":15.68,"y":3.98},{"s":"Control","x":16.23,"y":3.68},{"s":"Control","x":16.74,"y":3.34},{"s":"Control","x":17.19,"y":2.98},{"s":"Control","x":17.60,"y":2.60},{"s":"Control","x":17.94,"y":2.20},{"s":"Control","x":18.23,"y":1.78},{"s":"Control","x":18.46,"y":1.35},{"s":"Control","x":18.62,"y":0.95},{"s":"Control","x":18.75,"y":1.1},{"s":"Control","x":18.8,"y":1.5},{"s":"Control","x":18.85,"y":1.9},{"s":"Control","x":18.9,"y":2.3},{"s":"Control","x":18.95,"y":2.75},{"s":"Control","x":19.0,"y":3.2},
      {"s":"rGO","x":1.00,"y":0.0},{"s":"rGO","x":1.02,"y":0.24},{"s":"rGO","x":1.08,"y":0.47},{"s":"rGO","x":1.17,"y":0.70},{"s":"rGO","x":1.30,"y":0.93},{"s":"rGO","x":1.47,"y":1.15},{"s":"rGO","x":1.68,"y":1.36},{"s":"rGO","x":1.91,"y":1.56},{"s":"rGO","x":2.18,"y":1.75},{"s":"rGO","x":2.48,"y":1.92},{"s":"rGO","x":2.80,"y":2.08},{"s":"rGO","x":3.15,"y":2.23},{"s":"rGO","x":3.53,"y":2.36},{"s":"rGO","x":3.91,"y":2.46},{"s":"rGO","x":4.32,"y":2.56},{"s":"rGO","x":4.74,"y":2.63},{"s":"rGO","x":5.17,"y":2.68},{"s":"rGO","x":5.61,"y":2.71},{"s":"rGO","x":6.05,"y":2.72},{"s":"rGO","x":6.49,"y":2.71},{"s":"rGO","x":6.93,"y":2.68},{"s":"rGO","x":7.36,"y":2.63},{"s":"rGO","x":7.78,"y":2.56},{"s":"rGO","x":8.19,"y":2.46},{"s":"rGO","x":8.58,"y":2.36},{"s":"rGO","x":8.95,"y":2.23},{"s":"rGO","x":9.30,"y":2.08},{"s":"rGO","x":9.62,"y":1.92},{"s":"rGO","x":9.92,"y":1.75},{"s":"rGO","x":10.19,"y":1.56},{"s":"rGO","x":10.42,"y":1.36},{"s":"rGO","x":10.63,"y":1.15},{"s":"rGO","x":10.80,"y":0.93},{"s":"rGO","x":10.93,"y":0.70},{"s":"rGO","x":11.02,"y":0.47},{"s":"rGO","x":11.08,"y":0.24},{"s":"rGO","x":11.2,"y":0.5},{"s":"rGO","x":11.25,"y":0.8},{"s":"rGO","x":11.25,"y":1.1},{"s":"rGO","x":11.3,"y":1.4},{"s":"rGO","x":11.3,"y":1.7},{"s":"rGO","x":11.3,"y":2.0},{"s":"rGO","x":11.3,"y":2.3},
      {"s":"FeS","x":1.30,"y":0.0},{"s":"FeS","x":1.31,"y":0.17},{"s":"FeS","x":1.35,"y":0.33},{"s":"FeS","x":1.42,"y":0.50},{"s":"FeS","x":1.50,"y":0.66},{"s":"FeS","x":1.62,"y":0.81},{"s":"FeS","x":1.76,"y":0.96},{"s":"FeS","x":1.91,"y":1.10},{"s":"FeS","x":2.10,"y":1.23},{"s":"FeS","x":2.30,"y":1.36},{"s":"FeS","x":2.51,"y":1.47},{"s":"FeS","x":2.75,"y":1.57},{"s":"FeS","x":3.00,"y":1.66},{"s":"FeS","x":3.26,"y":1.74},{"s":"FeS","x":3.54,"y":1.80},{"s":"FeS","x":3.82,"y":1.85},{"s":"FeS","x":4.11,"y":1.89},{"s":"FeS","x":4.40,"y":1.91},{"s":"FeS","x":4.70,"y":1.92},{"s":"FeS","x":5.00,"y":1.91},{"s":"FeS","x":5.29,"y":1.89},{"s":"FeS","x":5.58,"y":1.85},{"s":"FeS","x":5.86,"y":1.80},{"s":"FeS","x":6.14,"y":1.74},{"s":"FeS","x":6.40,"y":1.66},{"s":"FeS","x":6.65,"y":1.57},{"s":"FeS","x":6.89,"y":1.47},{"s":"FeS","x":7.10,"y":1.36},{"s":"FeS","x":7.30,"y":1.23},{"s":"FeS","x":7.49,"y":1.10},{"s":"FeS","x":7.64,"y":0.96},{"s":"FeS","x":7.78,"y":0.81},{"s":"FeS","x":7.90,"y":0.66},{"s":"FeS","x":8.03,"y":0.40},{"s":"FeS","x":8.2,"y":0.6},{"s":"FeS","x":8.35,"y":0.9},{"s":"FeS","x":8.45,"y":1.25},{"s":"FeS","x":8.5,"y":1.6},{"s":"FeS","x":8.6,"y":1.95},{"s":"FeS","x":8.65,"y":2.3},{"s":"FeS","x":8.75,"y":2.8},{"s":"FeS","x":8.85,"y":3.3},
      {"s":"rGO+FeS","x":7.25,"y":0.45},{"s":"rGO+FeS","x":7.5,"y":0.5},{"s":"rGO+FeS","x":7.75,"y":0.45},{"s":"rGO+FeS","x":8.0,"y":0.55},{"s":"rGO+FeS","x":8.2,"y":0.45},{"s":"rGO+FeS","x":8.45,"y":0.3},{"s":"rGO+FeS","x":8.7,"y":0.2},{"s":"rGO+FeS","x":8.95,"y":0.25},{"s":"rGO+FeS","x":9.2,"y":0.4},{"s":"rGO+FeS","x":9.5,"y":0.55},{"s":"rGO+FeS","x":9.8,"y":0.7},{"s":"rGO+FeS","x":10.1,"y":0.85},{"s":"rGO+FeS","x":10.4,"y":1.0},{"s":"rGO+FeS","x":10.6,"y":1.3},{"s":"rGO+FeS","x":10.75,"y":1.6},{"s":"rGO+FeS","x":10.85,"y":1.95},{"s":"rGO+FeS","x":10.95,"y":2.3},{"s":"rGO+FeS","x":11.05,"y":2.65},{"s":"rGO+FeS","x":11.15,"y":3.0},{"s":"rGO+FeS","x":11.25,"y":3.55}
    ]
  },
  "vconcat": [
    {
      "title": {"text": "(a)", "offset": -13},
      "width": 489,
      "height": 160,
      "data": {"name": "volt"},
      "mark": {"type": "line", "strokeWidth": 1.6},
      "encoding": {
        "x": {"field": "x", "type": "quantitative", "scale": {"domain": [0, 30], "nice": false}, "axis": {"values": [0, 2, 4, 6, 8, 10, 12, 14, 16, 18, 20, 22, 24, 26, 28, 30], "tickCount": 40, "format": "d", "title": "Time(h)"}},
        "y": {"field": "y", "type": "quantitative", "scale": {"domain": [0, 0.3], "nice": false}, "axis": {"values": [0, 0.05, 0.1, 0.15, 0.2, 0.25, 0.3], "tickCount": 40, "format": ".2f", "title": "Voltage(V)"}},
        "color": {"field": "s", "type": "nominal", "scale": {"domain": ["Control", "rGO", "FeS", "rGO+FeS"], "range": ["#8fcb8c", "#e4636e", "#82b3e0", "#f6b068"]},
          "legend": {"orient": "top-right", "offset": 8, "symbolType": "M-2.5,0H2.5", "symbolSize": 100, "symbolStrokeWidth": 2, "labelFontSize": 11, "labelOffset": 10, "rowPadding": 2}}
      }
    },
    {
      "hconcat": [
        {
          "title": {"text": "(b)", "offset": 6},
          "width": 122, "height": 108,
          "layer": [
            {"data": {"name": "cv1"}, "mark": {"type": "line", "strokeWidth": 1.3, "opacity": 0.85},
             "encoding": {
               "x": {"field": "x", "type": "quantitative", "scale": {"domain": [-1, 1], "nice": false}, "axis": {"values": [-0.8, -0.4, 0, 0.4, 0.8], "tickCount": 40, "format": ".1f", "title": "Voltage(V)", "titlePadding": 5}},
               "y": {"field": "y", "type": "quantitative", "scale": {"domain": [-0.0205, 0.0175], "nice": false}, "axis": {"values": [0.01, 0, -0.01, -0.02], "tickCount": 40, "format": ".2f", "title": "Current(A)"}},
               "order": {"field": "i"},
               "color": {"field": "s", "type": "nominal", "scale": {"domain": ["Control", "rGO", "FeS", "rGO+FeS"], "range": ["#8fcb8c", "#e4636e", "#82b3e0", "#f6b068"]},
                 "legend": {"orient": "bottom-right", "offset": 2, "symbolType": "M-1.8,0H1.8", "symbolSize": 100, "symbolStrokeWidth": 1.6, "labelFontSize": 9, "labelOffset": 6, "rowPadding": 1}}
             }},
            {"data": {"values": [{}]}, "mark": {"type": "text", "text": "Cycle 1", "fontWeight": "bold", "fontSize": 11, "align": "left", "baseline": "middle", "color": "#000"},
             "encoding": {"x": {"datum": -0.87}, "y": {"datum": 0.014}}}
          ]
        },
        {
          "title": {"text": "(c)", "offset": -8.5},
          "width": 122, "height": 108,
          "layer": [
            {"data": {"name": "cv2"}, "mark": {"type": "line", "strokeWidth": 1.3, "opacity": 0.85},
             "encoding": {
               "x": {"field": "x", "type": "quantitative", "scale": {"domain": [-1, 1], "nice": false}, "axis": {"values": [-0.8, -0.4, 0, 0.4, 0.8], "tickCount": 40, "format": ".1f", "title": "Voltage(V)", "titlePadding": 5}},
               "y": {"field": "y", "type": "quantitative", "scale": {"domain": [-0.0195, 0.02], "nice": false}, "axis": {"values": [0.02, 0.01, 0, -0.01], "tickCount": 40, "format": ".2f", "title": "Current(A)"}},
               "order": {"field": "i"},
               "color": {"field": "s", "type": "nominal", "scale": {"domain": ["Control", "rGO", "FeS", "rGO+FeS"], "range": ["#8fcb8c", "#e4636e", "#82b3e0", "#f6b068"]}, "legend": null}
             }},
            {"data": {"values": [{}]}, "mark": {"type": "text", "text": "Cycle 2", "fontWeight": "bold", "fontSize": 11, "align": "left", "baseline": "middle", "color": "#000"},
             "encoding": {"x": {"datum": -0.9}, "y": {"datum": 0.0155}}}
          ]
        },
        {
          "title": {"text": "(d)", "offset": -8.5},
          "width": 122, "height": 108,
          "layer": [
            {"data": {"name": "cv3"}, "mark": {"type": "line", "strokeWidth": 1.3, "opacity": 0.85},
             "encoding": {
               "x": {"field": "x", "type": "quantitative", "scale": {"domain": [-1, 1], "nice": false}, "axis": {"values": [-0.8, -0.4, 0, 0.4, 0.8], "tickCount": 40, "format": ".1f", "title": "Voltage(V)", "titlePadding": 5}},
               "y": {"field": "y", "type": "quantitative", "scale": {"domain": [-0.0195, 0.02], "nice": false}, "axis": {"values": [0.02, 0.01, 0, -0.01], "tickCount": 40, "format": ".2f", "title": "Current(A)"}},
               "order": {"field": "i"},
               "color": {"field": "s", "type": "nominal", "scale": {"domain": ["Control", "rGO", "FeS", "rGO+FeS"], "range": ["#8fcb8c", "#e4636e", "#82b3e0", "#f6b068"]}, "legend": null}
             }},
            {"data": {"values": [{}]}, "mark": {"type": "text", "text": "Cycle 3", "fontWeight": "bold", "fontSize": 11, "align": "left", "baseline": "middle", "color": "#000"},
             "encoding": {"x": {"datum": -0.92}, "y": {"datum": 0.0155}}}
          ]
        }
      ],
      "spacing": 60,
      "bounds": "flush",
      "resolve": {"scale": {"x": "independent", "y": "independent", "color": "independent"}}
    },
    {
      "hconcat": [
        {
          "title": {"text": "(e)", "offset": -6},
          "width": 122, "height": 108,
          "layer": [
            {"data": {"name": "eis1"}, "mark": {"type": "point", "filled": true, "size": 28, "opacity": 1},
             "encoding": {
               "x": {"field": "x", "type": "quantitative", "scale": {"domain": [0, 18], "nice": false}, "axis": {"values": [0, 3, 6, 9, 12, 15, 18], "tickCount": 40, "format": "d", "title": "Z'(Ω)"}},
               "y": {"field": "y", "type": "quantitative", "scale": {"domain": [-1.2, 6], "nice": false}, "axis": {"values": [0, 2, 4, 6], "tickCount": 40, "format": "d", "title": "-Z''(Ω)"}},
               "color": {"field": "s", "type": "nominal", "scale": {"domain": ["Control", "rGO", "FeS", "rGO+FeS"], "range": ["#8fcb8c", "#e4636e", "#82b3e0", "#f6b068"]},
                 "legend": {"orient": "bottom-right", "offset": 3, "symbolSize": 35, "labelFontSize": 9, "labelOffset": 5, "rowPadding": 1}},
               "shape": {"field": "s", "type": "nominal", "scale": {"domain": ["Control", "rGO", "FeS", "rGO+FeS"], "range": ["square", "circle", "triangle-up", "triangle-down"]},
                 "legend": {"orient": "bottom-right", "offset": 3, "symbolSize": 35, "labelFontSize": 9, "labelOffset": 5, "rowPadding": 1}}
             }},
            {"data": {"values": [{}]}, "mark": {"type": "text", "text": "Cycle 1", "fontWeight": "bold", "fontSize": 11, "align": "left", "baseline": "middle", "color": "#000"},
             "encoding": {"x": {"datum": 0.9}, "y": {"datum": 5.29}}}
          ]
        },
        {
          "title": {"text": "(f)", "offset": -6},
          "width": 122, "height": 108,
          "layer": [
            {"data": {"name": "eis2"}, "mark": {"type": "point", "filled": true, "size": 28, "opacity": 1},
             "encoding": {
               "x": {"field": "x", "type": "quantitative", "scale": {"domain": [-1, 21], "nice": false}, "axis": {"values": [0, 4, 8, 12, 16, 20], "tickCount": 40, "format": "d", "title": "Z'(Ω)"}},
               "y": {"field": "y", "type": "quantitative", "scale": {"domain": [-0.6, 6], "nice": false}, "axis": {"values": [0, 2, 4, 6], "tickCount": 40, "format": "d", "title": "-Z''(Ω)"}},
               "color": {"field": "s", "type": "nominal", "scale": {"domain": ["Control", "rGO", "FeS", "rGO+FeS"], "range": ["#8fcb8c", "#e4636e", "#82b3e0", "#f6b068"]}, "legend": null},
               "shape": {"field": "s", "type": "nominal", "scale": {"domain": ["Control", "rGO", "FeS", "rGO+FeS"], "range": ["square", "circle", "triangle-up", "triangle-down"]}, "legend": null}
             }},
            {"data": {"values": [{}]}, "mark": {"type": "text", "text": "Cycle 2", "fontWeight": "bold", "fontSize": 11, "align": "left", "baseline": "middle", "color": "#000"},
             "encoding": {"x": {"datum": 0.08}, "y": {"datum": 5.27}}}
          ]
        },
        {
          "title": {"text": "(g)", "offset": -6},
          "width": 122, "height": 108,
          "layer": [
            {"data": {"name": "eis3"}, "mark": {"type": "point", "filled": true, "size": 28, "opacity": 1},
             "encoding": {
               "x": {"field": "x", "type": "quantitative", "scale": {"domain": [-1, 21], "nice": false}, "axis": {"values": [0, 4, 8, 12, 16, 20], "tickCount": 40, "format": "d", "title": "Z'(Ω)"}},
               "y": {"field": "y", "type": "quantitative", "scale": {"domain": [-0.6, 6], "nice": false}, "axis": {"values": [0, 2, 4, 6], "tickCount": 40, "format": "d", "title": "-Z''(Ω)"}},
               "color": {"field": "s", "type": "nominal", "scale": {"domain": ["Control", "rGO", "FeS", "rGO+FeS"], "range": ["#8fcb8c", "#e4636e", "#82b3e0", "#f6b068"]}, "legend": null},
               "shape": {"field": "s", "type": "nominal", "scale": {"domain": ["Control", "rGO", "FeS", "rGO+FeS"], "range": ["square", "circle", "triangle-up", "triangle-down"]}, "legend": null}
             }},
            {"data": {"values": [{}]}, "mark": {"type": "text", "text": "Cycle 3", "fontWeight": "bold", "fontSize": 11, "align": "left", "baseline": "middle", "color": "#000"},
             "encoding": {"x": {"datum": 0.26}, "y": {"datum": 5.27}}}
          ]
        }
      ],
      "spacing": 60,
      "bounds": "flush",
      "resolve": {"scale": {"x": "independent", "y": "independent", "color": "independent", "shape": "independent"}}
    }
  ],
  "spacing": -5,
  "resolve": {"scale": {"x": "independent", "y": "independent", "color": "independent", "shape": "independent"}}
}
